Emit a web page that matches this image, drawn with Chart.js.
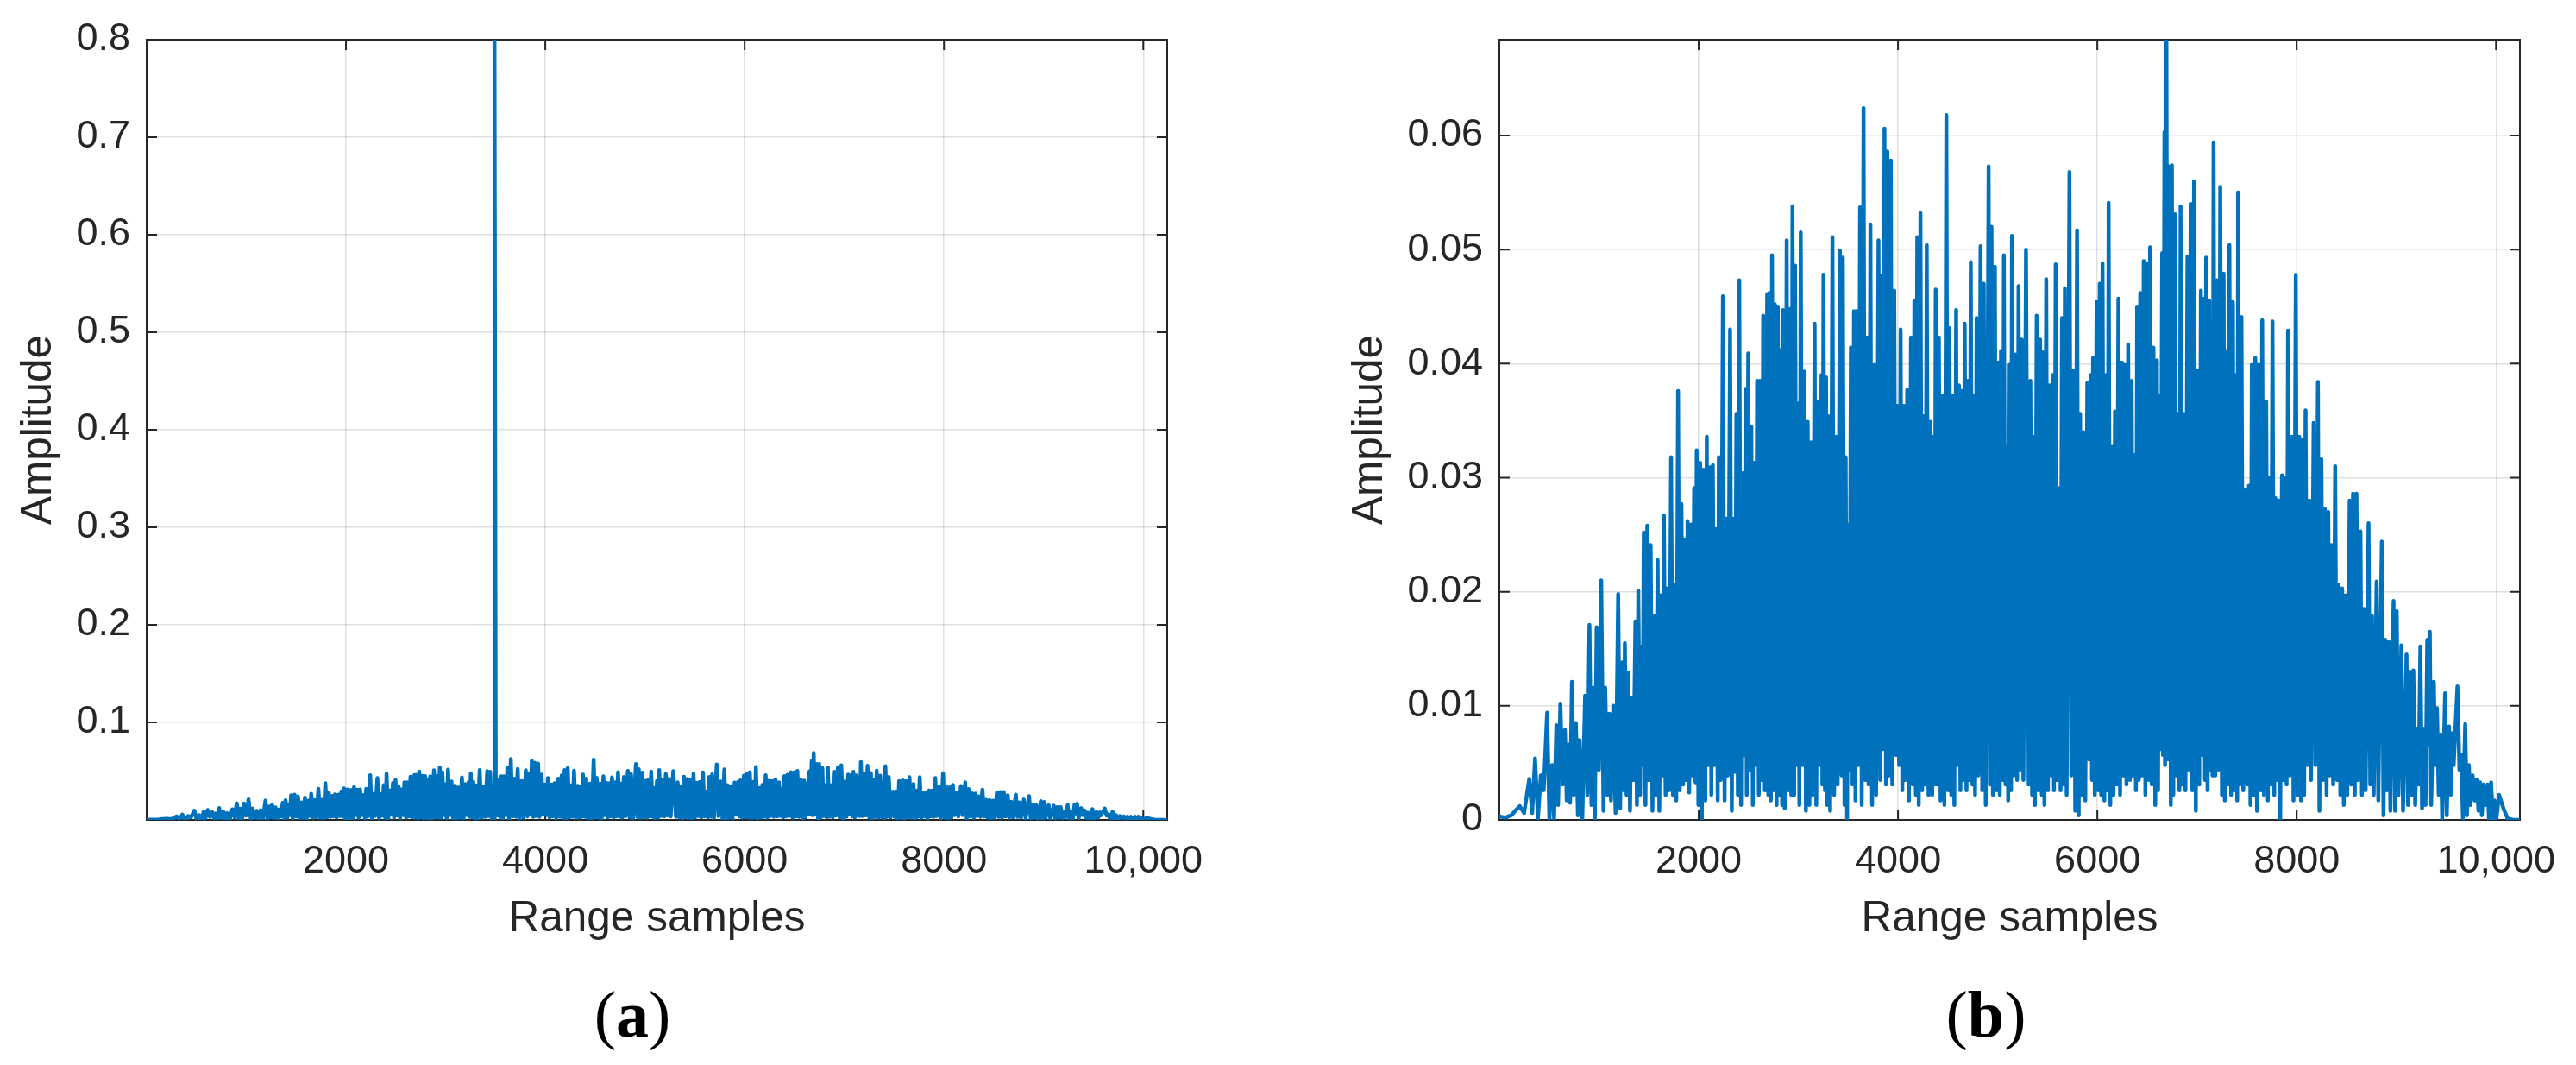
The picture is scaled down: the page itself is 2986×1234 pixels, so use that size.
<!DOCTYPE html>
<html>
<head>
<meta charset="utf-8">
<script src="https://cdn.jsdelivr.net/npm/chart.js@4.4.1/dist/chart.umd.min.js"></script>
<style>
  html, body { margin: 0; padding: 0; background: #fff; }
  #page { position: relative; width: 2986px; height: 1234px; overflow: hidden; background: #fff; }
  .panel { position: absolute; top: 0; height: 1234px; }
  #panelA { left: 0; width: 1480px; }
  #panelB { left: 1480px; width: 1506px; }
  .caption {
    position: absolute; top: 1137px;
    font-family: 'Liberation Serif', 'Times New Roman', serif;
    font-size: 76px; line-height: 76px; color: #000;
    transform: translateX(-50%); white-space: nowrap;
  }
</style>
</head>
<body>
<div id="page">
  <div class="panel" id="panelA"><canvas id="chartA" width="1480" height="1234"></canvas></div>
  <div class="panel" id="panelB"><canvas id="chartB" width="1506" height="1234"></canvas></div>
  <div class="caption" style="left: 733px;">(<b>a</b>)</div>
  <div class="caption" style="left: 2302px;">(<b>b</b>)</div>
</div>

<script>
// range sample / amplitude pairs, peaks and dips in turn
const residualTrace = [
  [0,0.0003],[60,0.0002],[120,0.0004],[160,0.0008],[205,0.0012],[248,0.0006],[300,0.0036],[329,0.0006],
  [358,0.0054],[387,0.0001],[416,0.0039],[445,0.0026],[479,0.0094],[502,0.0],[528,0.0048],[549,0.0001],
  [572,0.0083],[589,0.0013],[612,0.0102],[635,0.0031],[658,0.0079],[676,0.0017],[693,0.0066],[710,0.0015],
  [728,0.0121],[748,0.0022],[768,0.0085],[788,0.0004],[805,0.0070],[832,0.0],[860,0.0109],[883,0.0022],
  [904,0.0171],[924,0.0013],[941,0.0116],[958,0.0],[976,0.0169],[999,0.0044],[1022,0.0210],[1045,0.0008],
  [1062,0.0116],[1085,0.0022],[1103,0.0093],[1120,0.0017],[1143,0.0100],[1166,0.0006],[1192,0.0198],[1212,0.0010],
  [1230,0.0138],[1247,0.0026],[1259,0.0155],[1276,0.0022],[1293,0.0129],[1311,0.0008],[1328,0.0107],[1345,0.0035],
  [1365,0.0174],[1380,0.0013],[1394,0.0201],[1412,0.0022],[1426,0.0152],[1437,0.0048],[1449,0.0252],[1466,0.0013],
  [1484,0.0258],[1501,0.0035],[1518,0.0241],[1536,0.0008],[1553,0.0179],[1570,0.0022],[1588,0.0228],[1605,0.0008],
  [1622,0.0197],[1637,0.0039],[1651,0.0267],[1668,0.0022],[1683,0.0203],[1703,0.0026],[1723,0.0318],[1741,0.0022],
  [1758,0.0206],[1775,0.0017],[1793,0.0376],[1810,0.0026],[1827,0.0277],[1844,0.0031],[1859,0.0246],[1873,0.0035],
  [1888,0.0262],[1905,0.0024],[1922,0.0259],[1937,0.0039],[1954,0.0291],[1968,0.0033],[1980,0.0324],[1997,0.0013],
  [2015,0.0313],[2032,0.0001],[2049,0.0307],[2067,0.0017],[2081,0.0336],[2095,0.0048],[2113,0.0309],[2127,0.0022],
  [2142,0.0311],[2159,0.0048],[2176,0.0255],[2191,0.0017],[2202,0.0318],[2220,0.0035],[2243,0.0459],[2260,0.0017],
  [2277,0.0264],[2292,0.0039],[2315,0.0430],[2332,0.0008],[2349,0.0264],[2364,0.0042],[2378,0.0356],[2393,0.0022],
  [2407,0.0473],[2425,0.0013],[2442,0.0304],[2456,0.0057],[2471,0.0378],[2482,0.0022],[2497,0.0409],[2514,0.0044],
  [2528,0.0345],[2543,0.0013],[2557,0.0313],[2575,0.0048],[2586,0.0385],[2603,0.0022],[2615,0.0385],[2632,0.0035],
  [2647,0.0442],[2664,0.0026],[2687,0.0461],[2698,0.0022],[2707,0.0462],[2724,0.0017],[2736,0.0495],[2753,0.0026],
  [2765,0.0452],[2782,0.0013],[2794,0.0450],[2811,0.0022],[2822,0.0412],[2837,0.0013],[2845,0.0447],[2863,0.0010],
  [2883,0.0508],[2900,0.0026],[2915,0.0448],[2929,0.0022],[2941,0.0538],[2958,0.0022],[2967,0.0486],[2984,0.0048],
  [2996,0.0365],[3010,0.0013],[3024,0.0515],[3042,0.0048],[3059,0.0393],[3076,0.0008],[3094,0.0349],[3111,0.0013],
  [3125,0.0331],[3143,0.0022],[3163,0.0435],[3180,0.0013],[3198,0.0367],[3212,0.0048],[3232,0.0390],[3241,0.0031],
  [3252,0.0478],[3267,0.0026],[3278,0.0388],[3290,0.0013],[3301,0.0354],[3319,0.0008],[3342,0.0511],[3359,0.0022],
  [3376,0.0336],[3394,0.0031],[3417,0.0499],[3434,0.0039],[3446,0.0493],[3463,0.0013],[3475,0.0318],[3489,0.0],
  [3503,0.0259],[3512,0.0044],[3527,0.0414],[3544,0.0031],[3558,0.0446],[3573,0.0017],[3584,0.0446],[3602,0.0048],
  [3619,0.0537],[3636,0.0013],[3654,0.0624],[3671,0.0035],[3688,0.0423],[3705,0.0031],[3723,0.0522],[3740,0.0013],
  [3763,0.0399],[3780,0.0022],[3804,0.0508],[3821,0.0035],[3835,0.0477],[3850,0.0062],[3864,0.0606],[3879,0.0031],
  [3893,0.0586],[3908,0.0039],[3928,0.0578],[3942,0.0031],[3962,0.0464],[3980,0.0057],[3994,0.0363],[4011,0.0048],
  [4026,0.0430],[4043,0.0026],[4060,0.0363],[4075,0.0035],[4092,0.0377],[4110,0.0017],[4130,0.0423],[4147,0.0031],
  [4164,0.0455],[4179,0.0022],[4193,0.0511],[4208,0.0013],[4225,0.0532],[4242,0.0026],[4257,0.0354],[4271,0.0031],
  [4288,0.0504],[4306,0.0022],[4326,0.0349],[4343,0.0022],[4358,0.0336],[4366,0.0031],[4378,0.0465],[4395,0.0031],
  [4410,0.0423],[4427,0.0017],[4447,0.0372],[4465,0.0013],[4485,0.0618],[4502,0.0026],[4516,0.0431],[4534,0.0022],
  [4548,0.0372],[4565,0.0013],[4583,0.0447],[4597,0.0048],[4612,0.0381],[4626,0.0026],[4641,0.0376],[4655,0.0035],
  [4669,0.0435],[4687,0.0026],[4701,0.0385],[4713,0.0035],[4730,0.0489],[4747,0.0031],[4765,0.0372],[4773,0.0022],
  [4788,0.0440],[4805,0.0039],[4828,0.0503],[4845,0.0026],[4860,0.0470],[4880,0.0013],[4909,0.0573],[4923,0.0031],
  [4938,0.0520],[4952,0.0022],[4972,0.0485],[4987,0.0026],[5004,0.0401],[5021,0.0022],[5033,0.0411],[5050,0.0035],
  [5062,0.0495],[5079,0.0031],[5091,0.0327],[5105,0.0017],[5120,0.0399],[5134,0.0026],[5143,0.0512],[5160,0.0039],
  [5177,0.0408],[5195,0.0035],[5209,0.0468],[5226,0.0044],[5241,0.0421],[5258,0.0035],[5284,0.0500],[5311,0.0031],
  [5328,0.0385],[5345,0.0022],[5357,0.0336],[5374,0.0013],[5391,0.0442],[5409,0.0026],[5426,0.0421],[5443,0.0022],
  [5452,0.0410],[5469,0.0013],[5487,0.0474],[5504,0.0026],[5521,0.0381],[5539,0.0039],[5550,0.0390],[5565,0.0026],
  [5582,0.0487],[5599,0.0035],[5617,0.0291],[5631,0.0026],[5645,0.0440],[5663,0.0031],[5674,0.0466],[5692,0.0022],
  [5720,0.0568],[5738,0.0039],[5761,0.0394],[5778,0.0008],[5796,0.0517],[5813,0.0004],[5827,0.0356],[5845,0.0022],
  [5862,0.0340],[5879,0.0017],[5899,0.0383],[5917,0.0053],[5934,0.0390],[5946,0.0035],[5957,0.0405],[5974,0.0022],
  [5992,0.0454],[6009,0.0026],[6024,0.0470],[6038,0.0022],[6052,0.0488],[6070,0.0017],[6087,0.0390],[6101,0.0026],
  [6113,0.0541],[6130,0.0013],[6148,0.0327],[6162,0.0022],[6177,0.0358],[6194,0.0031],[6211,0.0457],[6228,0.0022],
  [6246,0.0401],[6260,0.0039],[6275,0.0399],[6292,0.0031],[6309,0.0417],[6327,0.0035],[6344,0.0385],[6361,0.0039],
  [6376,0.0320],[6387,0.0026],[6399,0.0450],[6416,0.0035],[6430,0.0462],[6448,0.0039],[6465,0.0490],[6482,0.0022],
  [6500,0.0488],[6517,0.0035],[6529,0.0502],[6546,0.0031],[6563,0.0414],[6581,0.0013],[6598,0.0403],[6609,0.0026],
  [6624,0.0372],[6632,0.0062],[6650,0.0497],[6658,0.0057],[6673,0.0603],[6679,0.0048],[6693,0.0686],[6708,0.0053],
  [6722,0.0573],[6737,0.0013],[6748,0.0574],[6762,0.0022],[6780,0.0531],[6794,0.0039],[6809,0.0356],[6823,0.0026],
  [6835,0.0538],[6849,0.0031],[6866,0.0356],[6884,0.0026],[6904,0.0494],[6918,0.0044],[6936,0.0540],[6953,0.0026],
  [6970,0.0560],[6988,0.0008],[7005,0.0394],[7022,0.0031],[7039,0.0464],[7057,0.0057],[7071,0.0457],[7080,0.0035],
  [7091,0.0493],[7106,0.0026],[7123,0.0455],[7138,0.0044],[7149,0.0340],[7155,0.0039],[7166,0.0594],[7184,0.0039],
  [7201,0.0473],[7215,0.0044],[7233,0.0555],[7250,0.0022],[7267,0.0479],[7279,0.0017],[7290,0.0411],[7308,0.0031],
  [7325,0.0504],[7342,0.0022],[7360,0.0454],[7377,0.0026],[7392,0.0390],[7403,0.0017],[7412,0.0550],[7429,0.0031],
  [7446,0.0441],[7464,0.0026],[7487,0.0289],[7504,0.0031],[7521,0.0293],[7536,0.0013],[7550,0.0399],[7568,0.0022],
  [7585,0.0405],[7602,0.0008],[7617,0.0399],[7637,0.0026],[7654,0.0438],[7671,0.0022],[7694,0.0367],[7711,0.0017],
  [7723,0.0300],[7740,0.0031],[7757,0.0437],[7775,0.0022],[7786,0.0282],[7803,0.0035],[7821,0.0280],[7835,0.0],
  [7852,0.0302],[7867,0.0035],[7884,0.0300],[7899,0.0031],[7913,0.0429],[7930,0.0039],[7951,0.0336],[7968,0.0017],
  [7991,0.0478],[8008,0.0022],[8026,0.0336],[8043,0.0017],[8060,0.0333],[8075,0.0022],[8089,0.0359],[8106,0.0048],
  [8127,0.0280],[8144,0.0035],[8170,0.0348],[8187,0.0048],[8213,0.0384],[8228,0.0008],[8248,0.0316],[8265,0.0035],
  [8282,0.0273],[8300,0.0022],[8317,0.0270],[8331,0.0039],[8349,0.0241],[8366,0.0031],[8386,0.0310],[8404,0.0035],
  [8421,0.0206],[8438,0.0022],[8456,0.0203],[8473,0.0013],[8490,0.0197],[8508,0.0022],[8531,0.0280],[8548,0.0031],
  [8565,0.0286],[8583,0.0022],[8600,0.0286],[8617,0.0035],[8640,0.0253],[8655,0.0022],[8675,0.0185],[8692,0.0026],
  [8721,0.0260],[8738,0.0031],[8756,0.0179],[8773,0.0022],[8802,0.0209],[8819,0.0017],[8854,0.0244],[8871,0.0004],
  [8889,0.0158],[8906,0.0026],[8923,0.0156],[8940,0.0008],[8972,0.0192],[8987,0.0008],[9004,0.0183],[9021,0.0022],
  [9050,0.0153],[9067,0.0008],[9102,0.0145],[9117,0.0013],[9137,0.0130],[9154,0.0022],[9171,0.0131],[9189,0.0013],
  [9209,0.0080],[9223,0.0031],[9241,0.0152],[9258,0.0010],[9275,0.0080],[9293,0.0013],[9310,0.0158],[9321,0.0066],
  [9336,0.0165],[9350,0.0013],[9376,0.0121],[9391,0.0048],[9408,0.0098],[9425,0.0022],[9443,0.0075],[9460,0.0001],
  [9489,0.0111],[9506,0.0004],[9529,0.0082],[9547,0.0022],[9564,0.0076],[9575,0.0048],[9613,0.0117],[9633,0.0044],
  [9650,0.0057],[9668,0.0001],[9691,0.0084],[9708,0.0004],[9728,0.0048],[9743,0.0013],[9766,0.0039],[9786,0.0017],
  [9806,0.0035],[9824,0.0008],[9841,0.0033],[9858,0.0004],[9876,0.0031],[9893,0.0013],[9916,0.0031],[9930,0.0],
  [9951,0.0033],[9968,0.0001],[9985,0.0017],[10003,0.0],[10031,0.0022],[10075,0.0010],[10118,0.0001],[10176,0.0],
  [10240,0.0]
]

// the target return that sits on top of the residual in panel (a)
const targetSpike = [3490, 0.8]

const xMax = 10240
const xTickValues = [2000, 4000, 6000, 8000, 10000]
const xTickLabels = ['2000', '4000', '6000', '8000', '10,000']

const yMaxA = 0.8
const yTickValuesA = [0.1, 0.2, 0.3, 0.4, 0.5, 0.6, 0.7, 0.8]
const yTickLabelsA = ['0.1', '0.2', '0.3', '0.4', '0.5', '0.6', '0.7', '0.8']

const yMaxB = 0.0684
const yTickValuesB = [0, 0.01, 0.02, 0.03, 0.04, 0.05, 0.06]
const yTickLabelsB = ['0', '0.01', '0.02', '0.03', '0.04', '0.05', '0.06']

const lineBlue = '#0072BD'
const axisGray = '#262626'
const sansFont = "'Liberation Sans', Arial, Helvetica, sans-serif"

const pointsB = residualTrace.map(([x, y]) => ({ x, y }))
const pointsA = pointsB.concat([{ x: targetSpike[0], y: targetSpike[1] }]).sort((p, q) => p.x - q.x)

// box round the plot and the little inward ticks on all four sides, like matlab
const axesBox = {
  id: 'axesBox',
  beforeDatasetsDraw(chart) {
    const { ctx, chartArea: a, scales: { x, y } } = chart
    const len = 12
    ctx.save()
    ctx.strokeStyle = axisGray
    ctx.lineWidth = 2
    ctx.beginPath()
    x.ticks.forEach(t => {
      const px = x.getPixelForValue(t.value)
      ctx.moveTo(px, a.bottom); ctx.lineTo(px, a.bottom - len)
      ctx.moveTo(px, a.top); ctx.lineTo(px, a.top + len)
    })
    y.ticks.forEach(t => {
      const py = y.getPixelForValue(t.value)
      ctx.moveTo(a.left, py); ctx.lineTo(a.left + len, py)
      ctx.moveTo(a.right, py); ctx.lineTo(a.right - len, py)
    })
    ctx.stroke()
    ctx.strokeRect(a.left, a.top, a.right - a.left, a.bottom - a.top)
    ctx.restore()
  }
}

function makeChart(canvasId, points, opts) {
  return new Chart(document.getElementById(canvasId), {
    type: 'line',
    data: {
      datasets: [{
        data: points,
        borderColor: lineBlue,
        borderWidth: 4.5,
        pointRadius: 0,
        tension: 0,
        borderJoinStyle: 'round',
        fill: false
      }]
    },
    options: {
      responsive: false,
      animation: false,
      parsing: false,
      events: [],
      layout: {
        padding: { left: 0, top: 33, right: opts.padRight, bottom: 0 }
      },
      plugins: {
        legend: { display: false },
        tooltip: { enabled: false }
      },
      scales: {
        x: {
          type: 'linear',
          min: 0,
          max: xMax,
          afterBuildTicks: s => { s.ticks = xTickValues.map(v => ({ value: v })) },
          afterFit: s => { s.height = 284 },
          grid: { color: 'rgba(38,38,38,0.15)', lineWidth: 1.5, drawTicks: false },
          border: { display: false },
          ticks: {
            maxRotation: 0,
            autoSkip: false,
            padding: 22,
            color: axisGray,
            font: { family: sansFont, size: 45 },
            callback: (v, i) => xTickLabels[i]
          },
          title: {
            display: true,
            text: 'Range samples',
            color: axisGray,
            font: { family: sansFont, size: 49.5 },
            padding: { top: 0, bottom: 139 }
          }
        },
        y: {
          type: 'linear',
          min: 0,
          max: opts.yMax,
          afterBuildTicks: s => { s.ticks = opts.yTicks.map(v => ({ value: v })) },
          afterFit: s => { s.width = opts.yWidth },
          grid: { color: 'rgba(38,38,38,0.15)', lineWidth: 1.5, drawTicks: false },
          border: { display: false },
          ticks: {
            autoSkip: false,
            padding: 19,
            color: axisGray,
            font: { family: sansFont, size: 45 },
            callback: (v, i) => opts.yLabels[i]
          },
          title: {
            display: true,
            text: 'Amplitude',
            color: axisGray,
            font: { family: sansFont, size: 49.5 },
            padding: { top: opts.yTitlePad, bottom: 0 }
          }
        }
      }
    },
    plugins: [axesBox]
  })
}

makeChart('chartA', pointsA, {
  padRight: 127, yMax: yMaxA, yTicks: yTickValuesA, yLabels: yTickLabelsA, yWidth: 170, yTitlePad: 16
})

makeChart('chartB', pointsB, {
  padRight: 65, yMax: yMaxB, yTicks: yTickValuesB, yLabels: yTickLabelsB, yWidth: 258, yTitlePad: 79
})
</script>
</body>
</html>
